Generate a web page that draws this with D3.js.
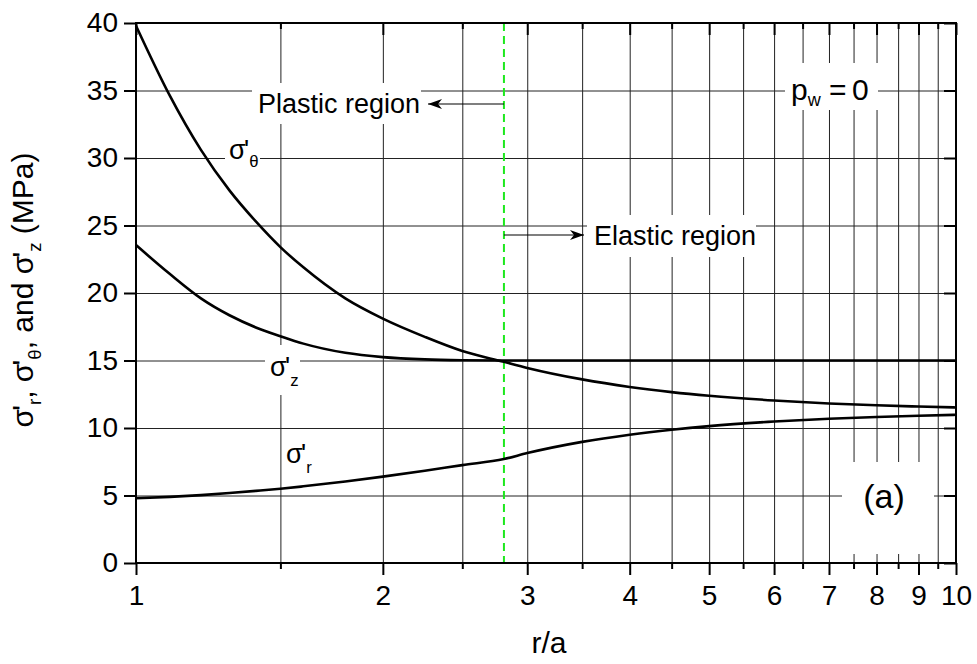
<!DOCTYPE html>
<html>
<head>
<meta charset="utf-8">
<script src="https://cdn.jsdelivr.net/npm/d3@7"></script>
<style>
body { margin: 0; background: #fff; }
svg text { font-family: "Liberation Sans", Arial, sans-serif; fill: #000; }
</style>
</head>
<body>
<div id="chart"></div>
<script>
// r/a sample points
const rValues = [1, 1.1, 1.2, 1.3, 1.4, 1.5, 1.6, 1.8, 2, 2.25, 2.5, 2.81, 3, 3.5, 4, 4.5, 5, 6, 7, 8, 9, 10];
const sigmaTheta = [39.8, 34.6, 30.6, 27.6, 25.3, 23.4, 21.9, 19.6, 18.1, 16.75, 15.7, 14.9, 14.45, 13.6, 13.04, 12.66, 12.39, 12.04, 11.82, 11.68, 11.59, 11.52];
const sigmaZ = [23.55, 21.4, 19.6, 18.35, 17.45, 16.8, 16.25, 15.57, 15.25, 15.08, 15.02, 15.0, 15.0, 15.0, 15.0, 15.0, 15.0, 15.0, 15.0, 15.0, 15.0, 15.0];
const sigmaR = [4.8, 4.9, 5.03, 5.18, 5.34, 5.5, 5.68, 6.04, 6.4, 6.83, 7.25, 7.7, 8.14, 8.97, 9.5, 9.87, 10.14, 10.48, 10.69, 10.82, 10.91, 10.98];

const xMajor = [1, 2, 3, 4, 5, 6, 7, 8, 9, 10];
const xMinor = [1.5, 2.5, 3.5, 4.5, 5.5, 6.5, 7.5, 8.5, 9.5];
const xGrid = [1.5, 2, 2.5, 3, 3.5, 4, 4.5, 5, 5.5, 6, 6.5, 7, 7.5, 8, 8.5, 9, 9.5];
const yTicks = [0, 5, 10, 15, 20, 25, 30, 35, 40];
const yGrid = [5, 10, 15, 20, 25, 30, 35];
const boundaryR = 2.81;

const width = 977, height = 664;
const margin = { top: 23, left: 136, bottom: 101, right: 21 };

const x = d3.scaleLog().domain([1, 10]).range([margin.left, width - margin.right]);
const y = d3.scaleLinear().domain([0, 40]).range([height - margin.bottom, margin.top]);
const plotH = y(0) - y(40);
const plotW = x(10) - x(1);

const svg = d3.select("#chart")
    .append("svg")
    .attr("width", width)
    .attr("height", height);

// grid
const gx = svg.append("g")
    .attr("transform", `translate(0,${y(0)})`)
    .call(d3.axisBottom(x).tickValues(xGrid).tickSize(-plotH).tickFormat(""));
gx.select(".domain").remove();
gx.selectAll("line").attr("stroke", "#222").attr("stroke-width", 1);

const gy = svg.append("g")
    .attr("transform", `translate(${x(1)},0)`)
    .call(d3.axisLeft(y).tickValues(yGrid).tickSize(-plotW).tickFormat(""));
gy.select(".domain").remove();
gy.selectAll("line").attr("stroke", "#222").attr("stroke-width", 1);

// white boxes behind annotations
const boxes = [
    [252, 83, 169, 41],   // Plastic region
    [587, 215, 169, 42],  // Elastic region
    [785, 63, 93, 47],    // p_w = 0
    [842, 462, 92, 92],   // (a)
    [225, 132, 35, 40],   // sigma theta
    [265, 345, 35, 50]    // sigma z
];
svg.append("g").selectAll("rect")
    .data(boxes)
    .enter().append("rect")
    .attr("x", d => d[0]).attr("y", d => d[1])
    .attr("width", d => d[2]).attr("height", d => d[3])
    .attr("fill", "#fff");

// plastic/elastic boundary
svg.append("line")
    .attr("x1", x(boundaryR)).attr("x2", x(boundaryR))
    .attr("y1", y(40)).attr("y2", y(0))
    .attr("stroke", "#1ee81e")
    .attr("stroke-width", 2)
    .attr("stroke-dasharray", "8,5");

// curves
const line = d3.line()
    .x((d, i) => x(rValues[i]))
    .y(d => y(d))
    .curve(d3.curveMonotoneX);

[sigmaTheta, sigmaZ, sigmaR].forEach(s => {
    svg.append("path")
        .attr("d", line(s))
        .attr("fill", "none")
        .attr("stroke", "#000")
        .attr("stroke-width", 2.6);
});

// arrows
svg.append("defs").append("marker")
    .attr("id", "arrow")
    .attr("viewBox", "0 0 14 10")
    .attr("refX", 14).attr("refY", 5)
    .attr("markerWidth", 14).attr("markerHeight", 10)
    .attr("markerUnits", "userSpaceOnUse")
    .attr("orient", "auto")
    .append("path")
    .attr("d", "M0,0 L14,5 L0,10 L4,5 Z")
    .attr("fill", "#000");

svg.append("line")
    .attr("x1", x(boundaryR)).attr("x2", 428)
    .attr("y1", 104).attr("y2", 104)
    .attr("stroke", "#000").attr("stroke-width", 1.2)
    .attr("marker-end", "url(#arrow)");

svg.append("line")
    .attr("x1", x(boundaryR)).attr("x2", 584)
    .attr("y1", 235).attr("y2", 235)
    .attr("stroke", "#000").attr("stroke-width", 1.2)
    .attr("marker-end", "url(#arrow)");

// axes
function styleAxis(g) {
    g.select(".domain").remove();
    g.selectAll("line").attr("stroke", "#000").attr("stroke-width", 2);
    g.selectAll("text").attr("font-size", 28).attr("fill", "#000")
        .attr("font-family", "'Liberation Sans', Arial, sans-serif");
}

svg.append("g")
    .attr("transform", `translate(0,${y(0)})`)
    .call(d3.axisBottom(x).tickValues(xMajor).tickSize(12).tickPadding(10).tickFormat(d3.format("d")))
    .call(styleAxis);
svg.append("g")
    .attr("transform", `translate(0,${y(0)})`)
    .call(d3.axisBottom(x).tickValues(xMinor).tickSize(6).tickFormat(""))
    .call(styleAxis);
svg.append("g")
    .attr("transform", `translate(0,${y(40)})`)
    .call(d3.axisTop(x).tickValues(xMajor).tickSize(-12).tickFormat(""))
    .call(styleAxis);
svg.append("g")
    .attr("transform", `translate(0,${y(40)})`)
    .call(d3.axisTop(x).tickValues(xMinor).tickSize(-6).tickFormat(""))
    .call(styleAxis);
svg.append("g")
    .attr("transform", `translate(${x(1)},0)`)
    .call(d3.axisLeft(y).tickValues(yTicks).tickSize(12).tickPadding(6))
    .call(styleAxis);
svg.append("g")
    .attr("transform", `translate(${x(10)},0)`)
    .call(d3.axisRight(y).tickValues(yTicks).tickSize(-12).tickFormat(""))
    .call(styleAxis);

// frame
svg.append("rect")
    .attr("x", x(1)).attr("y", y(40))
    .attr("width", plotW).attr("height", plotH)
    .attr("fill", "none")
    .attr("stroke", "#000")
    .attr("stroke-width", 2);

// sigma with prime and subscript
function addSigma(t, sub, size, shift) {
    t.append("tspan").text("σ");
    t.append("tspan").attr("dx", -size * 0.06).text("'");
    t.append("tspan").attr("dy", shift).attr("font-size", size * 0.62).text(sub);
}

const lt = svg.append("text").attr("x", 229).attr("y", 159).attr("font-size", 27);
addSigma(lt, "θ", 27, 8);
const lz = svg.append("text").attr("x", 270).attr("y", 376).attr("font-size", 27);
addSigma(lz, "z", 27, 10);
const lr = svg.append("text").attr("x", 286).attr("y", 463).attr("font-size", 27);
addSigma(lr, "r", 27, 10);

svg.append("text").attr("x", 258).attr("y", 113).attr("font-size", 27).text("Plastic region");
svg.append("text").attr("x", 594).attr("y", 245).attr("font-size", 27).text("Elastic region");

const pw = svg.append("text").attr("y", 100).attr("font-size", 30);
pw.append("tspan").attr("x", 791).text("p");
pw.append("tspan").attr("dy", 6).attr("font-size", 18).text("w");
pw.append("tspan").attr("x", 829).attr("dy", -6).text("=");
pw.append("tspan").attr("x", 852).text("0");

svg.append("text").attr("x", 884).attr("y", 508).attr("font-size", 34)
    .attr("text-anchor", "middle").text("(a)");

// axis titles
svg.append("text")
    .attr("x", (x(1) + x(10)) / 2 + 3).attr("y", 653)
    .attr("font-size", 30).attr("text-anchor", "middle")
    .text("r/a");

const yl = svg.append("text")
    .attr("transform", "translate(33,290) rotate(-90)")
    .attr("font-size", 30).attr("text-anchor", "middle");
addSigma(yl, "r", 30, 8);
yl.append("tspan").attr("dy", -8).text(", ");
addSigma(yl, "θ", 30, 8);
yl.append("tspan").attr("dy", -8).text(", and ");
addSigma(yl, "z", 30, 8);
yl.append("tspan").attr("dy", -8).text(" (MPa)");
</script>
</body>
</html>
